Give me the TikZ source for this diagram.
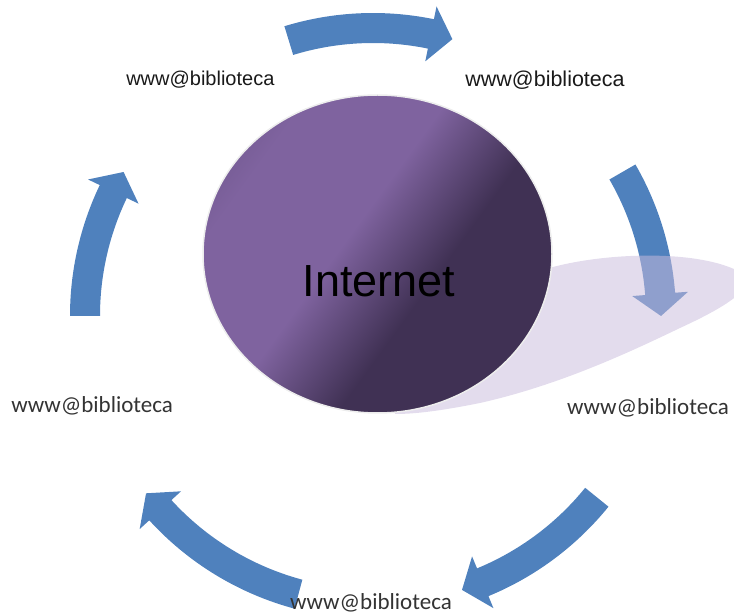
\documentclass[tikz,border=0pt]{standalone}
\usepackage{fontspec}
\setmainfont{Liberation Sans}
\newfontfamily\calibri{Carlito}
\usetikzlibrary{calc,positioning}
\definecolor{bluefreccia}{RGB}{79,129,189}
\definecolor{violachiaro}{RGB}{127,99,159}
\definecolor{violascuro}{RGB}{64,49,84}
\definecolor{violamedio}{RGB}{108,84,138}
\definecolor{ombra}{RGB}{202,188,220}
\pgfdeclareverticalshading{sfumato}{100bp}{color(0bp)=(violascuro); color(41bp)=(violascuro); color(55bp)=(violachiaro); color(72bp)=(violachiaro); color(82bp)=(violamedio); color(100bp)=(violamedio)}

\begin{document}
\begin{tikzpicture}[x=1pt,y=1pt, freccia/.style={fill=bluefreccia}, nomeA/.style={font=\fontsize{#1}{#1}\selectfont, text=black!90, inner sep=0pt}, nomeB/.style={font=\calibri\fontsize{#1}{#1}\selectfont, text=black!80, inner sep=0pt}]

\clip (0,0) rectangle (734,616);
\coordinate (centro) at (373,300);
\coordinate (cerchio) at (377.5,362);

%--frecce del ciclo
\foreach \da/\a in {107/74, 30/0, -39/-72, -105/-142, 180/150}
	\fill[freccia] ($(centro)+(\da:303pt)$) arc[start angle=\da, end angle=\a+4.4, radius=303pt] -- ($(centro)+({\a+4.4}:316pt)$) -- ($(centro)+(\a:288pt)$) -- ($(centro)+({\a+4.4}:260pt)$) -- ($(centro)+({\a+4.4}:273pt)$) arc[start angle=\a+4.4, end angle=\da, radius=273pt] -- cycle;

%--ombra sotto il cerchio
\fill[ombra, fill opacity=0.52] (380,316) -- (553,349) .. controls (610,364) and (700,366) .. (740,344) .. controls (760,331) and (730,311) .. (680,288) .. controls (630,264) and (560,231) .. (480,213) .. controls (440,205) and (415,202) .. (395,202) -- cycle;

%--cerchio Internet
\shade[shading=sfumato, shading angle=54, draw=white!93!black, line width=1.5pt] (cerchio) ellipse[x radius=174.5pt, y radius=159pt];
\node[anchor=base, font=\fontsize{45}{45}\selectfont] (internet) at (379,319) {Internet};

%--nomi attorno al ciclo
\node[nomeA=20] (bib1) at ($(centro)+(126.1:293pt)$) {www@biblioteca};
\node[nomeA=21.5] (bib2) at ($(centro)+(53.9:292pt)$) {www@biblioteca};
\node[nomeB=23] (bib3) at ($(centro)+(-18.5:290pt)$) {www@biblioteca};
\node[nomeB=23] (bib4) at ($(centro)+(-90.4:287pt)$) {www@biblioteca};
\node[nomeB=23] (bib5) at ($(centro)+(-162.2:295pt)$) {www@biblioteca};

\end{tikzpicture}
\end{document}
